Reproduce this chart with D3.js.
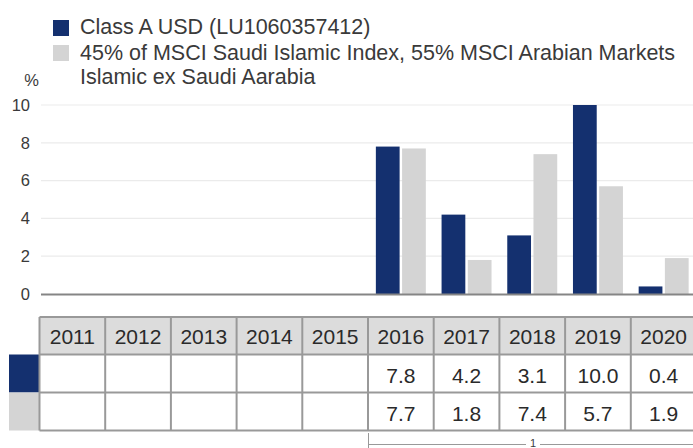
<!DOCTYPE html>
<html>
  <head>
    <meta charset="utf-8" />
    <title>Annual Performance</title>
    <script src="https://d3js.org/d3.v7.min.js"></script>
    <style>
      body {
        margin: 0;
        background: #fff;
      }
      svg {
        font-family: "Liberation Sans", Arial, sans-serif;
        display: block;
      }
    </style>
  </head>
  <body>
    <div id="chart-container"></div>
    <script>
      // data
      const years = ["2011", "2012", "2013", "2014", "2015", "2016", "2017", "2018", "2019", "2020"];
      const seriesNames = [
        "Class A USD (LU1060357412)",
        "45% of MSCI Saudi Islamic Index, 55% MSCI Arabian Markets Islamic ex Saudi Aarabia",
      ];
      const fundValues = [null, null, null, null, null, 7.8, 4.2, 3.1, 10.0, 0.4];
      const indexValues = [null, null, null, null, null, 7.7, 1.8, 7.4, 5.7, 1.9];
      const yTicks = [0, 2, 4, 6, 8, 10];
      const colors = ["#14306f", "#d4d4d4"];

      const width = 693;
      const height = 448;
      const textColor = "#3a3a3a";

      const svg = d3
        .select("#chart-container")
        .append("svg")
        .attr("width", width)
        .attr("height", height);

      //scales
      const xScale = d3.scaleBand().domain(years).range([39.5, 696.5]).padding(0);
      const xInner = d3
        .scaleBand()
        .domain([0, 1])
        .range([0, xScale.bandwidth()])
        .paddingInner(0.094)
        .paddingOuter(0.3);
      const yScale = d3.scaleLinear().domain([0, 10]).range([294, 105]);

      //gridlines
      svg
        .append("g")
        .selectAll("line")
        .data(yTicks.filter((d) => d > 0))
        .join("line")
        .attr("x1", 41)
        .attr("x2", width)
        .attr("y1", (d) => yScale(d))
        .attr("y2", (d) => yScale(d))
        .attr("stroke", "#ebebeb")
        .attr("stroke-width", 1.2);

      //y tick labels
      svg
        .append("g")
        .selectAll("text")
        .data(yTicks)
        .join("text")
        .attr("x", 30)
        .attr("y", (d) => yScale(d))
        .attr("dy", "0.35em")
        .attr("text-anchor", "end")
        .attr("font-size", "16.5px")
        .attr("fill", textColor)
        .text((d) => d);

      svg
        .append("text")
        .attr("x", 39)
        .attr("y", 86)
        .attr("text-anchor", "end")
        .attr("font-size", "16.5px")
        .attr("fill", textColor)
        .text("%");

      //bars
      const allSeries = [fundValues, indexValues];
      allSeries.forEach((vals, s) => {
        svg
          .append("g")
          .selectAll("rect")
          .data(years.map((y, i) => ({ year: y, value: vals[i] })).filter((d) => d.value != null))
          .join("rect")
          .attr("x", (d) => xScale(d.year) + xInner(s))
          .attr("width", xInner.bandwidth())
          .attr("y", (d) => yScale(d.value))
          .attr("height", (d) => yScale(0) - yScale(d.value))
          .attr("fill", colors[s]);
      });

      //x axis line
      svg
        .append("line")
        .attr("x1", 41)
        .attr("x2", width)
        .attr("y1", yScale(0) + 0.5)
        .attr("y2", yScale(0) + 0.5)
        .attr("stroke", "#858585")
        .attr("stroke-width", 2);

      //legend
      const legend = svg.append("g").attr("font-size", "21.5px").attr("fill", textColor);
      legend.append("rect").attr("x", 53).attr("y", 20).attr("width", 16).attr("height", 16).attr("fill", colors[0]);
      legend.append("text").attr("x", 80).attr("y", 34).text(seriesNames[0]);
      legend.append("rect").attr("x", 53).attr("y", 45).attr("width", 16).attr("height", 16).attr("fill", colors[1]);
      const t2 = legend.append("text").attr("x", 80).attr("y", 60);
      t2.append("tspan").attr("x", 80).text("45% of MSCI Saudi Islamic Index, 55% MSCI Arabian Markets");
      t2.append("tspan").attr("x", 80).attr("dy", 24).text("Islamic ex Saudi Aarabia");

      //table
      const rowTop = [317, 354.5, 392.5];
      const rowH = [37.5, 38, 38];
      const table = svg.append("g");

      table
        .selectAll("rect.head")
        .data(years)
        .join("rect")
        .attr("class", "head")
        .attr("x", (d) => xScale(d))
        .attr("y", rowTop[0])
        .attr("width", xScale.bandwidth())
        .attr("height", rowH[0])
        .attr("fill", "#dcdcdc");

      //row swatches
      colors.forEach((c, i) => {
        table
          .append("rect")
          .attr("x", 9)
          .attr("y", rowTop[i + 1])
          .attr("width", 30.5)
          .attr("height", rowH[i + 1])
          .attr("fill", c);
      });

      //grid lines of table
      const tableBottom = rowTop[2] + rowH[2];
      table
        .selectAll("line.v")
        .data(years)
        .join("line")
        .attr("class", "v")
        .attr("x1", (d) => xScale(d))
        .attr("x2", (d) => xScale(d))
        .attr("y1", rowTop[0])
        .attr("y2", tableBottom)
        .attr("stroke", "#999")
        .attr("stroke-width", 2);
      table
        .selectAll("line.h")
        .data([rowTop[0], rowTop[1], rowTop[2], tableBottom])
        .join("line")
        .attr("class", "h")
        .attr("x1", xScale(years[0]))
        .attr("x2", width)
        .attr("y1", (d) => d)
        .attr("y2", (d) => d)
        .attr("stroke", "#999")
        .attr("stroke-width", 2);

      const fmt = d3.format(".1f");
      table
        .selectAll("text.head")
        .data(years)
        .join("text")
        .attr("class", "head")
        .attr("x", (d) => xScale(d) + xScale.bandwidth() / 2)
        .attr("y", rowTop[0] + rowH[0] / 2 + 8)
        .attr("text-anchor", "middle")
        .attr("font-size", "21px")
        .attr("fill", "#2a2a2a")
        .text((d) => d);

      allSeries.forEach((vals, s) => {
        table
          .append("g")
          .selectAll("text")
          .data(years.map((y, i) => ({ year: y, value: vals[i] })).filter((d) => d.value != null))
          .join("text")
          .attr("x", (d) => xScale(d.year) + xScale.bandwidth() / 2)
          .attr("y", rowTop[s + 1] + rowH[s + 1] / 2 + 9)
          .attr("text-anchor", "middle")
          .attr("font-size", "21px")
          .attr("fill", "#2a2a2a")
          .text((d) => fmt(d.value));
      });

      //footnote bracket
      const bx = xScale("2016");
      const mid = (bx + 696) / 2 + 1;
      const br = svg.append("g").attr("stroke", "#999").attr("stroke-width", 1);
      br.append("line").attr("x1", bx + 0.5).attr("x2", bx + 0.5).attr("y1", 433).attr("y2", 448);
      br.append("line").attr("x1", bx).attr("x2", mid - 7).attr("y1", 444.5).attr("y2", 444.5);
      br.append("line").attr("x1", mid + 7).attr("x2", 696).attr("y1", 444.5).attr("y2", 444.5);
      svg
        .append("text")
        .attr("x", mid)
        .attr("y", 447)
        .attr("text-anchor", "middle")
        .attr("font-size", "11px")
        .attr("fill", textColor)
        .text("1");
    </script>
  </body>
</html>
